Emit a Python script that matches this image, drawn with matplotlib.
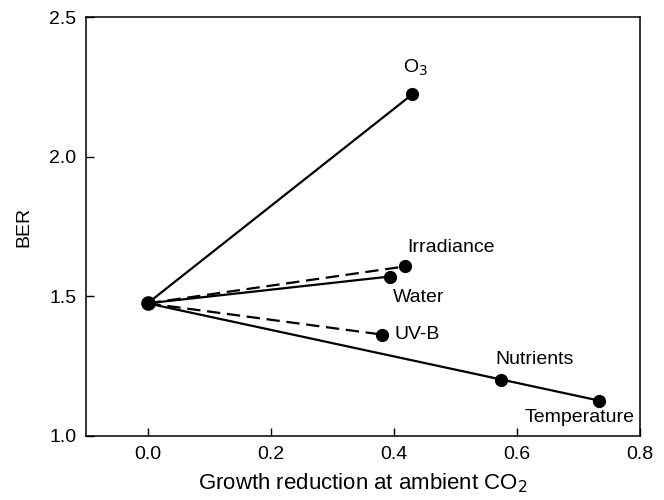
import matplotlib
matplotlib.use("Agg")
import matplotlib.pyplot as plt

plt.rcParams['font.family'] = ['Liberation Sans', 'DejaVu Sans']

# Growth reduction at ambient CO2 vs BER, each factor drawn from the common origin
origin_x = 0.0
origin_y = 1.475
factors = ['O$_3$', 'Irradiance', 'Water', 'UV-B', 'Nutrients', 'Temperature']
growth_red = [0.430, 0.418, 0.394, 0.381, 0.575, 0.733]
ber = [2.223, 1.607, 1.571, 1.363, 1.200, 1.127]
dashed = [False, True, False, True, False, False]

fig = plt.figure(figsize=(6.64, 5.0), dpi=100)
ax = fig.add_axes([86 / 664, 1 - 436 / 500, (640 - 86) / 664, (436 - 17) / 500])

# lines from origin (Nutrients sits on the Temperature line, so skip its own line)
for name, x, y, d in zip(factors, growth_red, ber, dashed):
    if name == 'Nutrients':
        continue
    ax.plot([origin_x, x], [origin_y, y], color='black', lw=1.6,
            linestyle=(0, (6, 3)) if d else '-', zorder=2)

ax.plot(growth_red, ber, 'o', color='black', markersize=8.5, zorder=3)
ax.plot([origin_x], [origin_y], 'o', color='black', markersize=9.5, zorder=3)

# label offsets in points
offsets = {
    'O$_3$': ((2, 19), 'center'),
    'Irradiance': ((2, 14), 'left'),
    'Water': ((2, -15), 'left'),
    'UV-B': ((9, 0), 'left'),
    'Nutrients': ((24, 15), 'center'),
    'Temperature': ((26, -12), 'right'),
}
for name, x, y in zip(factors, growth_red, ber):
    off, ha = offsets[name]
    ax.annotate(name, (x, y), xytext=off, textcoords='offset points',
                ha=ha, va='center', fontsize=14)

ax.set_xlim(-0.1, 0.8)
ax.set_ylim(1.0, 2.5)
ax.set_xticks([0.0, 0.2, 0.4, 0.6, 0.8])
ax.set_yticks([1.0, 1.5, 2.0, 2.5])
ax.set_xticklabels(['0.0', '0.2', '0.4', '0.6', '0.8'])
ax.set_yticklabels(['1.0', '1.5', '2.0', '2.5'])
ax.tick_params(direction='in', length=6, width=1, labelsize=14, pad=7)
for s in ax.spines.values():
    s.set_linewidth(1.1)

ax.set_xlabel('Growth reduction at ambient CO$_2$', fontsize=16, labelpad=6)
ax.set_ylabel('BER', fontsize=14, labelpad=12)

plt.savefig('out.png', dpi=100)
